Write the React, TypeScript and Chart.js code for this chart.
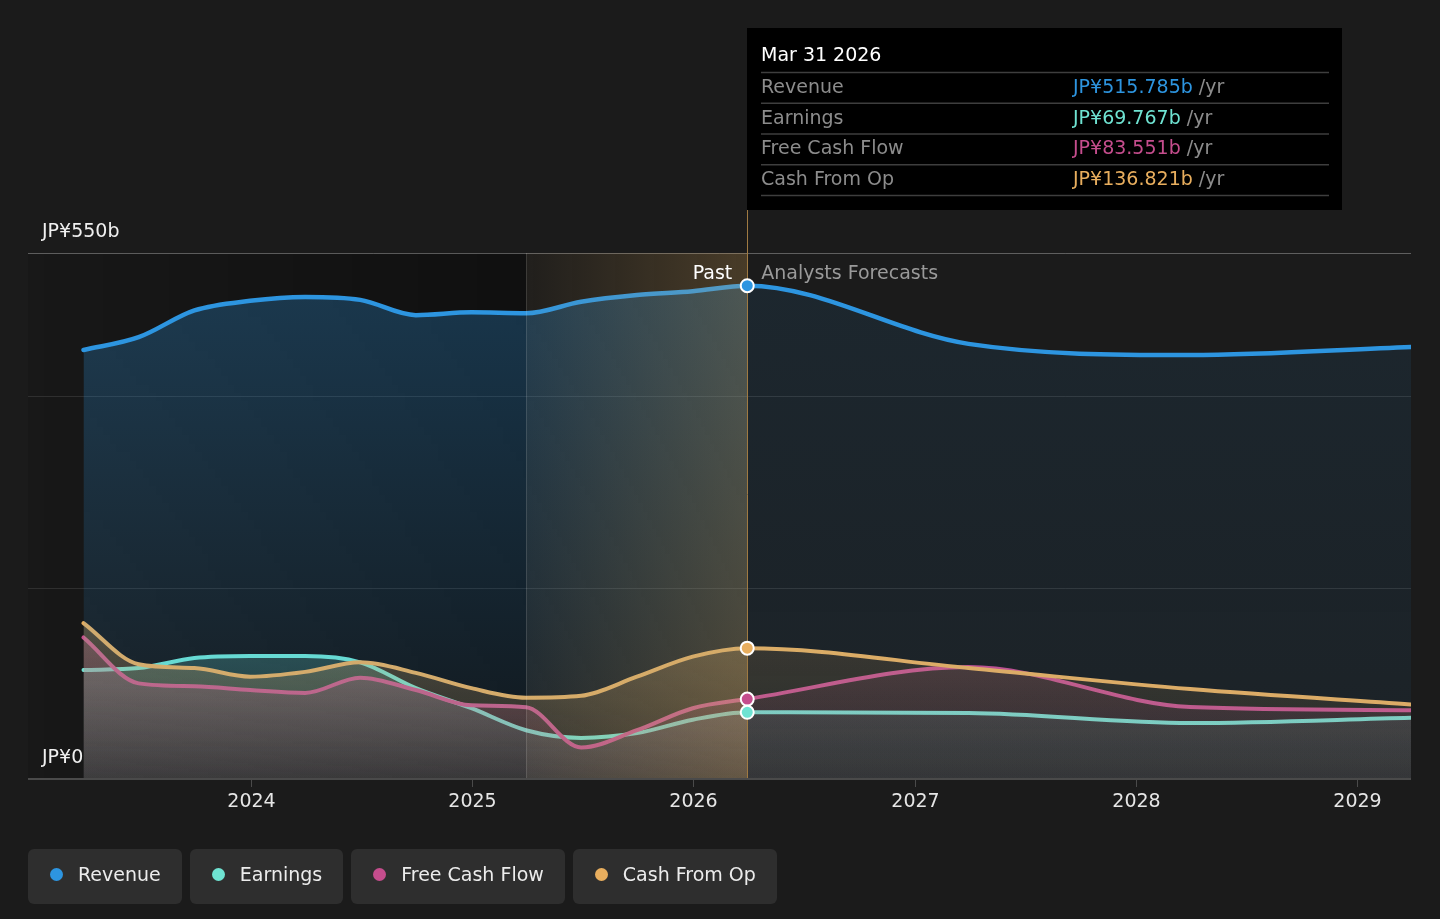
import React, { useEffect, useRef } from 'react';
import { Chart, registerables } from 'chart.js';

Chart.register(...registerables);

// ---------- data ----------
const pastDates = [
  '2023-03-31', '2023-06-30', '2023-09-30', '2023-12-31',
  '2024-03-31', '2024-06-30', '2024-09-30', '2024-12-31',
  '2025-03-31', '2025-06-30', '2025-09-30', '2025-12-31',
  '2026-03-31',
];
const forecastDates = ['2027-03-31', '2028-03-31', '2029-03-31'];

const revenuePast = [448.6, 462, 490, 500, 504, 501, 485, 488, 487, 499, 506, 510, 515.785];
const revenueForecast = [455, 443.3, 451.7];
const earningsPast = [114, 116, 126.5, 128.6, 128.6, 122, 95, 74, 51, 43, 48, 62, 69.767];
const earningsForecast = [69, 58.5, 64];
const fcfPast = [148, 100, 97, 93, 90, 106, 93, 77, 75, 33, 51, 74, 83.551];
const fcfForecast = [117, 75.3, 72];
const cfoPast = [163, 120, 116, 107, 112, 122, 111, 95, 85, 87, 107, 128, 136.821];
const cfoForecast = [116, 94, 78];

const seriesNames = ['Revenue', 'Earnings', 'Free Cash Flow', 'Cash From Op'];
const seriesColors = ['#2d95e0', '#6fe3d2', '#c54d8d', '#e8ae5e'];
const tooltipTitle = 'Mar 31 2026';
const tooltipValues = ['JP¥515.785b', 'JP¥69.767b', 'JP¥83.551b', 'JP¥136.821b'];
const tooltipUnit = ' /yr';

const gridValues = [200, 400, 550];
const yLabelValues = [0, 550];
const yLabelTexts = ['JP¥0', 'JP¥550b'];
const xTickYears = [2024, 2025, 2026, 2027, 2028, 2029];
const highlightStartDate = '2025-03-31';
const pastLabel = 'Past';
const forecastLabel = 'Analysts Forecasts';

const X_MIN = 2022.993;
const X_MAX_DATE = '2029-03-31';
const Y_MIN = 0;
const Y_MAX = 550;

const FONT = '"DejaVu Sans", Verdana, sans-serif';

// ---------- helpers ----------
function toYear(d: string): number {
  const [y, m, day] = d.split('-').map(Number);
  const start = Date.UTC(y, 0, 1);
  const end = Date.UTC(y + 1, 0, 1);
  const t = Date.UTC(y, m - 1, day);
  return y + (t - start) / (end - start);
}

function buildPoints(past: number[], fut: number[]) {
  const dates = pastDates.concat(forecastDates);
  const vals = past.concat(fut);
  return dates.map((d, i) => ({ x: toYear(d), y: vals[i] }));
}

const lastPastIndex = pastDates.length - 1;

function hexToRgb(hex: string) {
  const h = hex.replace('#', '');
  return [parseInt(h.slice(0, 2), 16), parseInt(h.slice(2, 4), 16), parseInt(h.slice(4, 6), 16)];
}
function rgba(hex: string, a: number) {
  const [r, g, b] = hexToRgb(hex);
  return `rgba(${r},${g},${b},${a})`;
}

// Fill made of a past part and a forecast part, each with a vertical fade.
function makeFill(color: string, topValue: number, past: [number, number], fut: [number, number]) {
  let cache: { key: string; pat: CanvasPattern | null } | null = null;
  return (context: any) => {
    const chart = context.chart;
    const { chartArea, scales } = chart;
    if (!chartArea) return 'rgba(0,0,0,0)';
    const key = `${chart.width}x${chart.height}-${chartArea.left}-${chartArea.right}-${chartArea.top}-${chartArea.bottom}`;
    if (cache && cache.key === key) return cache.pat;
    const off = document.createElement('canvas');
    off.width = chart.width;
    off.height = chart.height;
    const c = off.getContext('2d')!;
    const split = scales.x.getPixelForValue(toYear(pastDates[lastPastIndex]));
    const top = scales.y.getPixelForValue(topValue);
    const bottom = scales.y.getPixelForValue(Y_MIN);
    const gPast = c.createLinearGradient(0, top, 0, bottom);
    gPast.addColorStop(0, rgba(color, past[0]));
    gPast.addColorStop(1, rgba(color, past[1]));
    c.fillStyle = gPast;
    c.fillRect(0, 0, split, off.height);
    const gFut = c.createLinearGradient(0, top, 0, bottom);
    gFut.addColorStop(0, rgba(color, fut[0]));
    gFut.addColorStop(1, rgba(color, fut[1]));
    c.fillStyle = gFut;
    c.fillRect(split, 0, off.width - split, off.height);
    const pat = chart.ctx.createPattern(off, 'no-repeat');
    cache = { key, pat };
    return pat;
  };
}

// ---------- plugins ----------
const decorPlugin = {
  id: 'decor',
  beforeDraw(chart: any) {
    const { ctx, chartArea, scales } = chart;
    const { left, right, top, bottom } = chartArea;
    ctx.save();
    const hx = scales.x.getPixelForValue(toYear(highlightStartDate));
    const g = ctx.createLinearGradient(left, 0, hx, 0);
    g.addColorStop(0, 'rgba(0,0,0,0.1)');
    g.addColorStop(1, 'rgba(0,0,0,0.4)');
    ctx.fillStyle = g;
    ctx.fillRect(left, top, hx - left, bottom - top);
    gridValues.forEach((v) => {
      const y = Math.round(scales.y.getPixelForValue(v)) + 0.5;
      ctx.strokeStyle = v === Y_MAX ? 'rgba(255,255,255,0.3)' : 'rgba(255,255,255,0.1)';
      ctx.lineWidth = 1;
      ctx.beginPath();
      ctx.moveTo(left, y);
      ctx.lineTo(right, y);
      ctx.stroke();
    });
    ctx.restore();
  },
  afterDatasetsDraw(chart: any) {
    const { ctx, chartArea, scales } = chart;
    const { left, right, top, bottom } = chartArea;
    const hx = scales.x.getPixelForValue(toYear(highlightStartDate));
    const px = scales.x.getPixelForValue(toYear(pastDates[lastPastIndex]));
    ctx.save();
    const g = ctx.createLinearGradient(hx, 0, px, 0);
    g.addColorStop(0, 'rgba(225,170,85,0.03)');
    g.addColorStop(1, 'rgba(225,170,85,0.23)');
    ctx.fillStyle = g;
    ctx.fillRect(hx, top, px - hx, bottom - top);
    ctx.lineWidth = 1;
    ctx.strokeStyle = 'rgba(255,255,255,0.13)';
    ctx.beginPath();
    ctx.moveTo(Math.round(hx) + 0.5, top);
    ctx.lineTo(Math.round(hx) + 0.5, bottom);
    ctx.stroke();
    ctx.strokeStyle = '#a07a42';
    ctx.beginPath();
    ctx.moveTo(Math.round(px) + 0.5, 210);
    ctx.lineTo(Math.round(px) + 0.5, bottom);
    ctx.stroke();
    // axis line & ticks
    ctx.strokeStyle = '#4a4a4a';
    ctx.lineWidth = 2;
    ctx.beginPath();
    ctx.moveTo(left, bottom);
    ctx.lineTo(right, bottom);
    ctx.stroke();
    ctx.font = `19px ${FONT}`;
    ctx.fillStyle = '#e6e6e6';
    ctx.textAlign = 'center';
    ctx.textBaseline = 'middle';
    xTickYears.forEach((yr) => {
      const x = Math.round(scales.x.getPixelForValue(yr)) + 0.5;
      ctx.lineWidth = 1;
      ctx.beginPath();
      ctx.moveTo(x, bottom);
      ctx.lineTo(x, bottom + 8);
      ctx.stroke();
      ctx.fillText(String(yr), x, bottom + 23);
    });
    ctx.textAlign = 'left';
    ctx.fillStyle = '#f0f0f0';
    yLabelValues.forEach((v, i) => {
      const y = scales.y.getPixelForValue(v);
      ctx.fillText(yLabelTexts[i], left + 14, y - 21);
    });
    ctx.textAlign = 'right';
    ctx.fillStyle = '#ffffff';
    ctx.fillText(pastLabel, px - 15, top + 21);
    ctx.textAlign = 'left';
    ctx.fillStyle = '#9a9a9a';
    ctx.fillText(forecastLabel, px + 14, top + 21);
    chart.data.datasets.forEach((ds: any, i: number) => {
      const meta = chart.getDatasetMeta(i);
      const el = meta.data[lastPastIndex];
      if (!el) return;
      ctx.beginPath();
      ctx.arc(el.x, el.y, 6.5, 0, Math.PI * 2);
      ctx.fillStyle = ds.borderColor;
      ctx.fill();
      ctx.lineWidth = 2;
      ctx.strokeStyle = '#ffffff';
      ctx.stroke();
    });
    ctx.restore();
  },
  afterDraw(chart: any) {
    const { ctx, scales } = chart;
    const px = scales.x.getPixelForValue(toYear(pastDates[lastPastIndex]));
    const boxL = Math.round(px);
    const boxT = 28;
    const boxW = 595;
    const boxH = 182;
    ctx.save();
    ctx.fillStyle = '#000000';
    ctx.fillRect(boxL, boxT, boxW, boxH);
    ctx.textBaseline = 'middle';
    ctx.textAlign = 'left';
    ctx.font = `19px ${FONT}`;
    ctx.fillStyle = '#ffffff';
    ctx.fillText(tooltipTitle, boxL + 14, boxT + 28);
    const sepY0 = boxT + 44.5;
    const step = 30.75;
    ctx.strokeStyle = '#3e3e3e';
    ctx.lineWidth = 1.5;
    for (let i = 0; i <= seriesNames.length; i++) {
      const y = sepY0 + i * step;
      ctx.beginPath();
      ctx.moveTo(boxL + 14, y);
      ctx.lineTo(boxL + 582, y);
      ctx.stroke();
    }
    seriesNames.forEach((name, i) => {
      const y = sepY0 + i * step + step / 2;
      ctx.fillStyle = '#8c8c8c';
      ctx.fillText(name, boxL + 14, y);
      ctx.fillStyle = seriesColors[i];
      const vx = boxL + 326;
      ctx.fillText(tooltipValues[i], vx, y);
      const w = ctx.measureText(tooltipValues[i]).width;
      ctx.fillStyle = '#8c8c8c';
      ctx.fillText(tooltipUnit, vx + w, y);
    });
    ctx.restore();
  },
};

// ---------- component ----------
export default function App() {
  const canvasRef = useRef<HTMLCanvasElement | null>(null);

  useEffect(() => {
    if (!canvasRef.current) return;
    Chart.defaults.font.family = FONT;
    const series = [
      buildPoints(revenuePast, revenueForecast),
      buildPoints(earningsPast, earningsForecast),
      buildPoints(fcfPast, fcfForecast),
      buildPoints(cfoPast, cfoForecast),
    ];
    const fills = [
      makeFill(seriesColors[0], Y_MAX, [0.3, 0.06], [0.1, 0.06]),
      makeFill(seriesColors[1], 160, [0.28, 0.08], [0.16, 0.06]),
      makeFill(seriesColors[2], 160, [0.3, 0.09], [0.16, 0.06]),
      makeFill(seriesColors[3], 160, [0.3, 0.09], [0.16, 0.06]),
    ];
    // index 0 is drawn last (on top): revenue, cash from op, free cash flow, earnings
    const order = [0, 3, 2, 1];
    const chart = new Chart(canvasRef.current, {
      type: 'line',
      data: {
        datasets: order.map((i) => ({
          label: seriesNames[i],
          data: series[i],
          borderColor: seriesColors[i],
          backgroundColor: fills[i] as any,
          borderWidth: i === 0 ? 4.5 : 4,
          fill: 'origin',
          cubicInterpolationMode: 'monotone' as const,
          pointRadius: 0,
          pointHoverRadius: 0,
          borderCapStyle: 'round' as const,
        })),
      },
      options: {
        animation: false,
        responsive: false,
        events: [],
        layout: { padding: { left: 28, right: 29, top: 253, bottom: 140 } },
        scales: {
          x: { type: 'linear', display: false, min: X_MIN, max: toYear(X_MAX_DATE) },
          y: { type: 'linear', display: false, min: Y_MIN, max: Y_MAX },
        },
        plugins: {
          legend: { display: false },
          tooltip: { enabled: false },
        },
      },
      plugins: [decorPlugin],
    });
    return () => chart.destroy();
  }, []);

  return (
    <div
      style={{
        position: 'fixed',
        left: 0,
        top: 0,
        width: 1440,
        height: 919,
        background: '#1b1b1b',
        overflow: 'hidden',
        fontFamily: FONT,
      }}
    >
      <canvas ref={canvasRef} width={1440} height={919} style={{ display: 'block', width: 1440, height: 919 }} />
      <div
        style={{
          position: 'absolute',
          left: 28,
          top: 849,
          display: 'flex',
          gap: 8,
        }}
      >
        {seriesNames.map((name, i) => (
          <div
            key={name}
            style={{
              height: 55,
              boxSizing: 'border-box',
              background: '#2e2e2e',
              borderRadius: 6,
              padding: '0 21px 5px 22px',
              display: 'flex',
              alignItems: 'center',
              color: '#ececec',
              fontSize: 19,
              lineHeight: '22px',
              whiteSpace: 'nowrap',
            }}
          >
            <span
              style={{
                display: 'inline-block',
                width: 13,
                height: 13,
                borderRadius: '50%',
                background: seriesColors[i],
                marginRight: 15,
                flexShrink: 0,
              }}
            />
            {name}
          </div>
        ))}
      </div>
    </div>
  );
}
